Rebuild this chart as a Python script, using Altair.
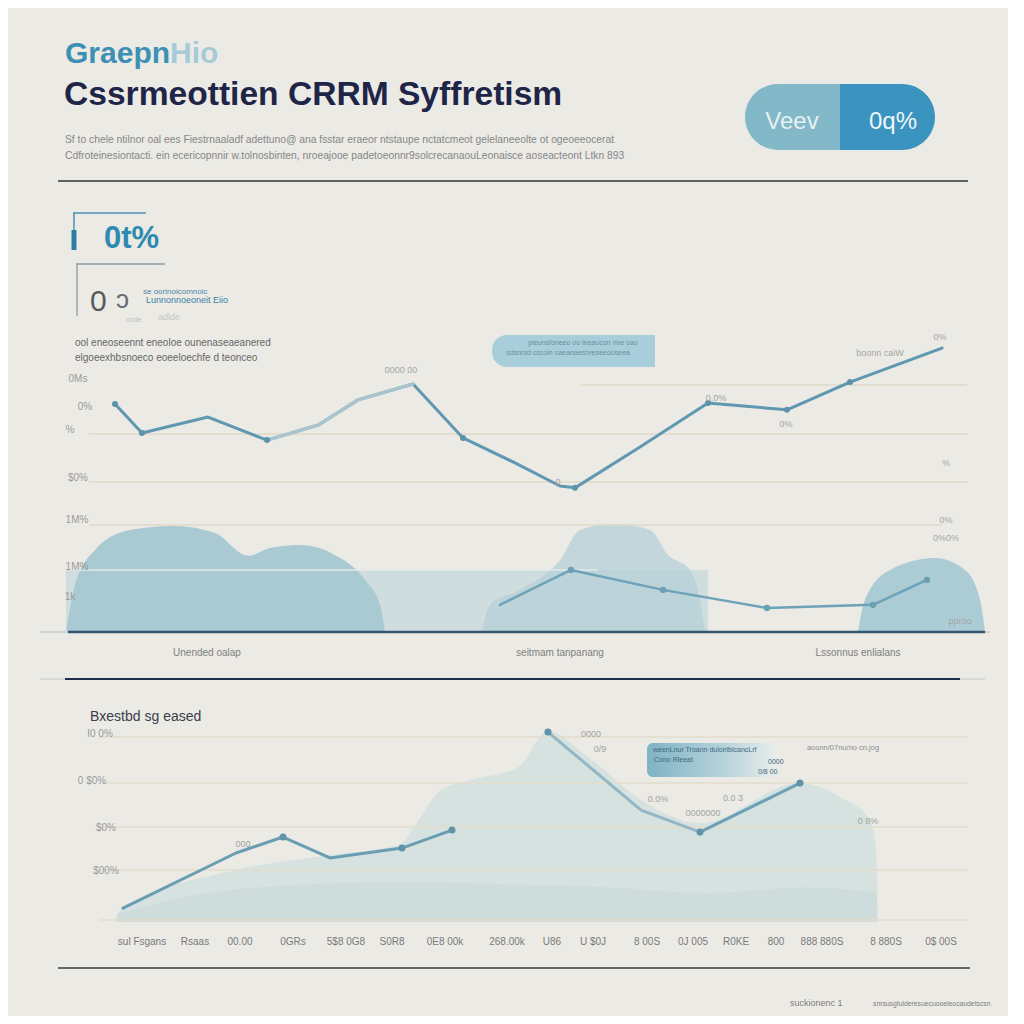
import altair as alt
import pandas as pd

FONT = "Liberation Sans"
BG = "#ebeae5"
W = 1000
H_HEAD, H_P1, H_P2, H_FOOT = 312, 312, 290, 94
TOP_HEAD, TOP_P1, TOP_P2, TOP_FOOT = 8, 320, 632, 922

# ---------------- data ----------------
# chart 1, main line (x: 0-100 across the page, v: 0-100 index)
L1_X = [10.7, 13.4, 20.0, 25.9, 31.0, 35.0, 40.5, 45.5, 50.7, 55.2, 56.7, 63.2, 70.0, 77.9, 84.2, 93.4]
L1_V = [73.1, 63.8, 68.9, 61.5, 66.3, 74.4, 79.5, 62.2, 54.2, 46.8, 46.2, 59.3, 73.4, 71.2, 80.1, 91.0]
L1_LIGHT = [3, 4, 5, 6]
L1_MARKS = [0, 1, 3, 7, 10, 12, 13, 14]
# chart 1, lower line
L2_X = [49.2, 56.3, 65.5, 75.9, 86.5, 91.9]
L2_V = [8.7, 19.9, 13.5, 7.7, 8.7, 16.7]
# chart 1, soft areas
BLOB_L_X = [5.8, 6.7, 8.7, 12.2, 16.7, 20.7, 24.0, 26.2, 29.2, 32.7, 35.7, 37.2, 37.7]
BLOB_L_V = [0, 15, 26.3, 32.7, 34.0, 31.7, 24.4, 26.9, 27.9, 24.7, 16.7, 8.7, 0]
BLOB_M_X = [47.4, 48.2, 51.2, 55.2, 57.2, 60.7, 64.2, 66.0, 68.2, 69.2, 69.7]
BLOB_M_V = [0, 8.7, 13.5, 23.0, 32.7, 34.6, 32.7, 24.7, 19.9, 10.3, 0]
BLOB_R_X = [85.0, 85.7, 88.2, 92.7, 95.7, 97.2, 97.7]
BLOB_R_V = [0, 10.3, 19.9, 23.7, 19.9, 10.3, 0]
BAND1 = [5.8, 70.0, 19.9]
G1_V = [79.2, 63.5, 48.1, 34.3, 19.9]
G1_X0 = [57.3, 8.1, 8.1, 8.1, 6.1]
G1_X1 = [95.9, 96.0, 96.0, 93.4, 59.0]
Y1_LABELS = ["0Ms", "0%", "%", "$0%", "1M%", "1M%", "1k"]
Y1_LX = [7.0, 7.7, 6.2, 7.0, 6.9, 6.9, 6.2]
Y1_LV = [81.1, 72.1, 64.7, 49.4, 35.9, 20.8, 11.2]
NOTE1_X = [48.4, 64.7]
NOTE1_V = [84.9, 95.2]
X1_LABELS = ["Unended oalap", "seitmam tanpanang", "Lssonnus enlialans"]
X1_POS = [19.9, 55.2, 85.0]

# chart 2
L3A_X = [11.5, 22.8, 27.5, 32.2, 39.4, 44.4]
L3A_V = [4.8, 23.8, 29.3, 22.1, 25.5, 31.7]
L3B_X = [54.0, 63.3, 69.2, 79.2]
L3B_V = [65.5, 38.6, 31.0, 47.9]
AREA2_X = [10.7, 11.2, 22.8, 32.2, 39.2, 40.4, 43.3, 46.3, 51.0, 54.0, 58.0, 63.3, 69.2, 79.2, 83.2, 86.2, 86.8, 87.0]
AREA2_V = [0, 4.1, 17.9, 23.1, 26.6, 31.7, 45.5, 49.0, 53.4, 65.9, 56.9, 42.1, 34.1, 47.9, 43.1, 35.2, 24.8, 0]
BAND2_X = [11.0, 20.0, 30.0, 40.0, 50.0, 60.0, 70.0, 80.0, 86.9]
BAND2_V = [3.0, 10.0, 13.0, 14.0, 13.0, 12.0, 10.0, 12.0, 10.0]
G2_V = [63.8, 47.9, 32.8, 17.9, 0.7]
Y2_LABELS = ["I0 0%", "0 $0%", "$0%", "$00%"]
Y2_LX = [9.2, 8.4, 9.8, 9.8]
Y2_LV = [64.8, 48.6, 32.4, 17.6]
NOTE2_X = [63.9, 76.9]
NOTE2_V = [50.0, 61.7]
X2_LABELS = ["sul Fsgans", "Rsaas", "00.00", "0GRs", "5$8 0G8", "S0R8", "0E8 00k", "268.00k", "U86",
             "U $0J", "8 00S", "0J 005", "R0KE", "800", "888 880S", "8 880S", "0$ 00S"]
X2_POS = [13.4, 18.7, 23.2, 28.5, 33.8, 38.4, 43.7, 49.9, 54.4, 58.5, 63.9, 68.5, 72.8, 76.8, 81.4, 87.8, 93.3]

# header texts
KICKER_A, KICKER_B = "Graepn", "Hio"
TITLE = "Cssrmeottien CRRM Syffretism"
SUB1 = "Sf to chele ntilnor oal ees Fiestrnaaladf adettuno@ ana fsstar eraeor ntstaupe nctatcmeot gelelaneeolte ot ogeoeeocerat"
SUB2 = "Cdfroteinesiontacti. ein ecericopnnir w.tolnosbinten, nroeajooe padetoeonnr9solcrecanaouLeonaisce aoseacteont Ltkn 893"
PILL_L, PILL_R = "Veev", "0q%"
KPI1 = "0t%"
BODY1 = "ool eneoseennt eneoloe ounenaseaeanered"
BODY2 = "elgoeexhbsnoeco eoeeloechfe d teonceo"
CHART2_TITLE = "Bxestbd sg eased"
FOOT_A, FOOT_B = "suckionenc  1", "snrsusgfulderesuecuooeleocaudetscsn"

# ---------------- helpers ----------------
ONE = pd.DataFrame({"k": [0]})


def sc():
    return alt.Scale(domain=[0, 100], nice=False, zero=False)


def X(f):
    return alt.X(f"{f}:Q", scale=sc(), axis=None)


def Y(f):
    return alt.Y(f"{f}:Q", scale=sc(), axis=None)


def mk(top):
    def label(s, x, y, size=10, color="#8a8a8a", weight="normal", align="left", angle=None, opacity=1.0):
        kw = dict(align=align, baseline="alphabetic", fontSize=size, color=color,
                  fontWeight=weight, font=FONT, opacity=opacity)
        if angle is not None:
            kw["angle"] = angle
        return alt.Chart(pd.DataFrame({"t": [s]})).mark_text(**kw).encode(
            x=alt.value(x - 8), y=alt.value(y - top), text="t:N")

    def hrule(x1, x2, y, color, w=1.5):
        return alt.Chart(ONE).mark_rule(color=color, strokeWidth=w).encode(
            x=alt.value(x1 - 8), x2=alt.value(x2 - 8), y=alt.value(y - top))

    def vrule(x, y1, y2, color, w=1.5):
        return alt.Chart(ONE).mark_rule(color=color, strokeWidth=w).encode(
            x=alt.value(x - 8), y=alt.value(y1 - top), y2=alt.value(y2 - top))

    def rect(x1, x2, y1, y2, color, **kw):
        return alt.Chart(ONE).mark_rect(color=color, **kw).encode(
            x=alt.value(x1 - 8), x2=alt.value(x2 - 8), y=alt.value(y1 - top), y2=alt.value(y2 - top))
    return label, hrule, vrule, rect


def series(xs, vs, **extra):
    d = {"x": xs, "v": vs}
    d.update(extra)
    return pd.DataFrame(d)


def area(xs, vs, color, opacity=1.0):
    return alt.Chart(series(xs, vs)).mark_area(
        interpolate="monotone", color=color, opacity=opacity).encode(x=X("x"), y=Y("v"))


def line(xs, vs, color, w=3.0, opacity=1.0):
    return alt.Chart(series(xs, vs)).mark_line(
        color=color, strokeWidth=w, opacity=opacity, strokeCap="round", strokeJoin="round"
    ).encode(x=X("x"), y=Y("v"))


def dots(xs, vs, color, size=40):
    return alt.Chart(series(xs, vs)).mark_circle(color=color, size=size, opacity=1).encode(
        x=X("x"), y=Y("v"))


def dlabels(texts, xs, vs, size=10, color="#8f8f8f", align="center", opacity=1.0):
    return alt.Chart(pd.DataFrame({"x": xs, "v": vs, "t": texts})).mark_text(
        fontSize=size, color=color, font=FONT, align=align, baseline="middle", opacity=opacity
    ).encode(x=X("x"), y=Y("v"), text="t:N")


# ---------------- header panel ----------------
lab, hr, vr, rc = mk(TOP_HEAD)
head_layers = [
    lab(KICKER_A, 65, 63, size=30, color="#3d90b4", weight="bold"),
    lab(KICKER_B, 170, 63, size=30, color="#a6cbd7", weight="bold"),
    lab(TITLE, 64, 105, size=33.6, color="#1e2547", weight="bold"),
    lab(SUB1, 65, 143, size=10.3, color="#878787"),
    lab(SUB2, 65, 159, size=10.3, color="#878787"),
    hr(58, 968, 181, "#34343a", 1.6),
    rc(745, 842, 84, 150, "#82b8c7", cornerRadiusTopLeft=33, cornerRadiusBottomLeft=33),
    rc(840, 935, 84, 150, "#3b93bf", cornerRadiusTopRight=33, cornerRadiusBottomRight=33),
    lab(PILL_L, 792, 129, size=24, color="#e6f1f3", align="center"),
    lab(PILL_R, 893, 129, size=24, color="#eef7fa", align="center"),
    # KPI block 1
    hr(73, 146, 213, "#4a93b3", 1.5),
    vr(74, 213, 232, "#4a93b3", 1.5),
    vr(74, 230, 250, "#2c7ea0", 5),
    lab(KPI1, 104, 248, size=31, color="#2f8ab0", weight="bold"),
    # KPI block 2
    hr(76, 165, 264, "#8e9da3", 1.5),
    vr(77, 264, 316, "#9aa6aa", 1.5),
    lab("0", 90, 311, size=30, color="#555a5e"),
    lab("ɔ", 116, 308, size=26, color="#666b70"),
    lab("se oorinoicomnoic", 143, 294, size=8, color="#4b88a8"),
    lab("Lunnonnoeoneit Eiio", 146, 303, size=9, color="#3d7fa5"),
    lab("mde", 126, 322, size=8, color="#c2c2c2"),
    lab("adlde", 158, 320, size=9, color="#c8c8c8"),
    lab(BODY1, 75, 346, size=10, color="#666666"),
    lab(BODY2, 75, 361, size=10, color="#666666"),
]
head = alt.layer(*head_layers).properties(width=W, height=H_HEAD)

# ---------------- chart 1 ----------------
grid1 = pd.DataFrame({"v": G1_V, "x0": G1_X0, "x1": G1_X1})
grid1_main = alt.Chart(grid1.iloc[:4]).mark_rule(color="#dfd9c7", strokeWidth=1.5).encode(
    x=X("x0"), x2="x1:Q", y=Y("v"))
grid1_low = alt.Chart(grid1.iloc[4:]).mark_rule(color="#e2eaea", strokeWidth=1.5).encode(
    x=X("x0"), x2="x1:Q", y=Y("v"))
band1 = alt.Chart(pd.DataFrame({"x0": [BAND1[0]], "x1": [BAND1[1]], "v": [BAND1[2]], "v0": [0]})).mark_rect(
    color="#bed4d9", opacity=0.6).encode(x=X("x0"), x2="x1:Q", y=Y("v"), y2="v0:Q")
base1 = pd.DataFrame({"x0": [3.2, 6.0], "x1": [98.2, 97.7], "v": [0, 0]})
base1_l = alt.Chart(base1.iloc[:1]).mark_rule(color="#cfd2cd", strokeWidth=2).encode(x=X("x0"), x2="x1:Q", y=Y("v"))
base1_d = alt.Chart(base1.iloc[1:]).mark_rule(color="#34566f", strokeWidth=2.5).encode(x=X("x0"), x2="x1:Q", y=Y("v"))

note1 = alt.Chart(pd.DataFrame({"x0": [NOTE1_X[0]], "x1": [NOTE1_X[1]], "v0": [NOTE1_V[0]], "v1": [NOTE1_V[1]]})).mark_rect(
    color="#a9cedb", cornerRadiusTopLeft=15, cornerRadiusBottomLeft=15).encode(
    x=X("x0"), x2="x1:Q", y=Y("v1"), y2="v0:Q")
note1_t = dlabels(["pleunsfoneeo oo lneaucon  nne oao", "sdsnrsd  cscoin    oaeanaesnreseeooseea"],
                  [57.5, 56.0], [92.5, 89.3], size=7, color="#6b8f9c")

p1_layers = [
    band1,
    area(BLOB_M_X, BLOB_M_V, "#b4cfd7", 0.75),
    area(BLOB_L_X, BLOB_L_V, "#a9c9d3"),
    area(BLOB_R_X, BLOB_R_V, "#abcbd5"),
    grid1_main, grid1_low,
    base1_l, base1_d,
    line(L1_X, L1_V, "#5f98b0", 3),
    line([L1_X[i] for i in L1_LIGHT], [L1_V[i] for i in L1_LIGHT], "#a9c4cc", 3.2),
    dots([L1_X[i] for i in L1_MARKS], [L1_V[i] for i in L1_MARKS], "#5a93ab", 36),
    line(L2_X, L2_V, "#6ea2b8", 2.5),
    dots(L2_X[1:], L2_V[1:], "#6a9fb4", 40),
    dlabels(Y1_LABELS, Y1_LX, Y1_LV, size=10, color="#9a9a9a"),
    dlabels(["0%", "boonn caiW", "0.0%", "0%", "0000 00", "%", "0%", "0%0%", "pproo", "0"],
            [93.2, 87.2, 70.8, 77.8, 39.3, 93.8, 93.8, 93.8, 95.2, 55.0],
            [94.6, 89.5, 75.0, 66.7, 84.0, 54.2, 35.9, 30.1, 3.5, 48.0],
            size=9, color="#a6a6a6"),
    note1, note1_t,
]
p1 = alt.layer(*p1_layers).properties(width=W, height=H_P1)

# ---------------- chart 2 ----------------
lab2, hr2, vr2, rc2 = mk(TOP_P2)
grid2 = pd.DataFrame({"v": G2_V, "x0": [9.2] * 5, "x1": [96.0] * 5})
grid2_r = alt.Chart(grid2).mark_rule(color="#e2dccb", strokeWidth=1.5).encode(x=X("x0"), x2="x1:Q", y=Y("v"))
note2_grad = alt.Gradient(gradient="linear", x1=0, x2=1, y1=0, y2=0,
                          stops=[alt.GradientStop(color="#7fb3c5", offset=0),
                                 alt.GradientStop(color="#b7d3dc", offset=0.6),
                                 alt.GradientStop(color="#e9eeec", offset=1)])
note2 = alt.Chart(pd.DataFrame({"x0": [NOTE2_X[0]], "x1": [NOTE2_X[1]], "v0": [NOTE2_V[0]], "v1": [NOTE2_V[1]]})).mark_rect(
    color=note2_grad, cornerRadius=6).encode(x=X("x0"), x2="x1:Q", y=Y("v1"), y2="v0:Q")
note2_t = dlabels(["weenLnur Troann duloirlblcancLrf", "Cono Rleeat", "0000", "0/8  00"],
                  [64.5, 64.6, 76.0, 75.0], [59.3, 55.8, 55.3, 51.6], size=7, color="#40687d", align="left")

p2_layers = [
    lab2(X1_LABELS[0], 207, 656, size=10, color="#808080", align="center"),
    lab2(X1_LABELS[1], 560, 656, size=10, color="#808080", align="center"),
    lab2(X1_LABELS[2], 858, 656, size=10, color="#808080", align="center"),
    hr2(40, 985, 679, "#d2d3ce", 1.5),
    hr2(65, 960, 679, "#1f2b4d", 2),
    lab2(CHART2_TITLE, 90, 721, size=14, color="#3b3e4b"),
    area(AREA2_X, AREA2_V, "#d3e1df", 0.9),
    area(BAND2_X, BAND2_V, "#c9d9d9", 0.6),
    grid2_r,
    line(L3A_X, L3A_V, "#6a9db2", 3),
    line(L3B_X[:3], L3B_V[:3], "#93b7c4", 3),
    line(L3B_X[2:], L3B_V[2:], "#6fa1b6", 3),
    dots([L3A_X[2], L3A_X[4], L3A_X[5], L3B_X[0], L3B_X[2], L3B_X[3]],
         [L3A_V[2], L3A_V[4], L3A_V[5], L3B_V[0], L3B_V[2], L3B_V[3]], "#5f93aa", 50),
    dlabels(Y2_LABELS, Y2_LX, Y2_LV, size=10, color="#9a9a9a"),
    dlabels(["0000", "0/9", "0.0%", "0000000", "0.0 3", "0 8%", "000"],
            [58.3, 59.2, 65.0, 69.5, 72.5, 86.0, 23.5],
            [64.8, 59.7, 42.4, 37.6, 42.7, 35.0, 27.0], size=9, color="#a3a3a3"),
    dlabels(["aoonn/07nu/no cn.jog"], [83.5], [60.0], size=7.5, color="#8d8d8d"),
    note2, note2_t,
]
p2 = alt.layer(*p2_layers).properties(width=W, height=H_P2)

# ---------------- footer panel ----------------
lab3, hr3, vr3, rc3 = mk(TOP_FOOT)
xl2 = alt.Chart(pd.DataFrame({"x": X2_POS, "t": X2_LABELS})).mark_text(
    fontSize=10, color="#7a7a7a", font=FONT, align="center", baseline="alphabetic").encode(
    x=X("x"), y=alt.value(945 - TOP_FOOT), text="t:N")
foot = alt.layer(
    xl2,
    hr3(58, 970, 968, "#3a3a3d", 1.6),
    lab3(FOOT_A, 790, 1006, size=9, color="#7d7d7d"),
    lab3(FOOT_B, 873, 1006, size=6.8, color="#7d7d7d"),
).properties(width=W, height=H_FOOT)

chart = alt.vconcat(head, p1, p2, foot, spacing=0, bounds="flush").resolve_scale(
    x="independent", y="independent").properties(padding=0).configure(
    background=BG).configure_view(stroke=None)

chart.save("out.html", embed_options={"renderer": "svg", "actions": False})
